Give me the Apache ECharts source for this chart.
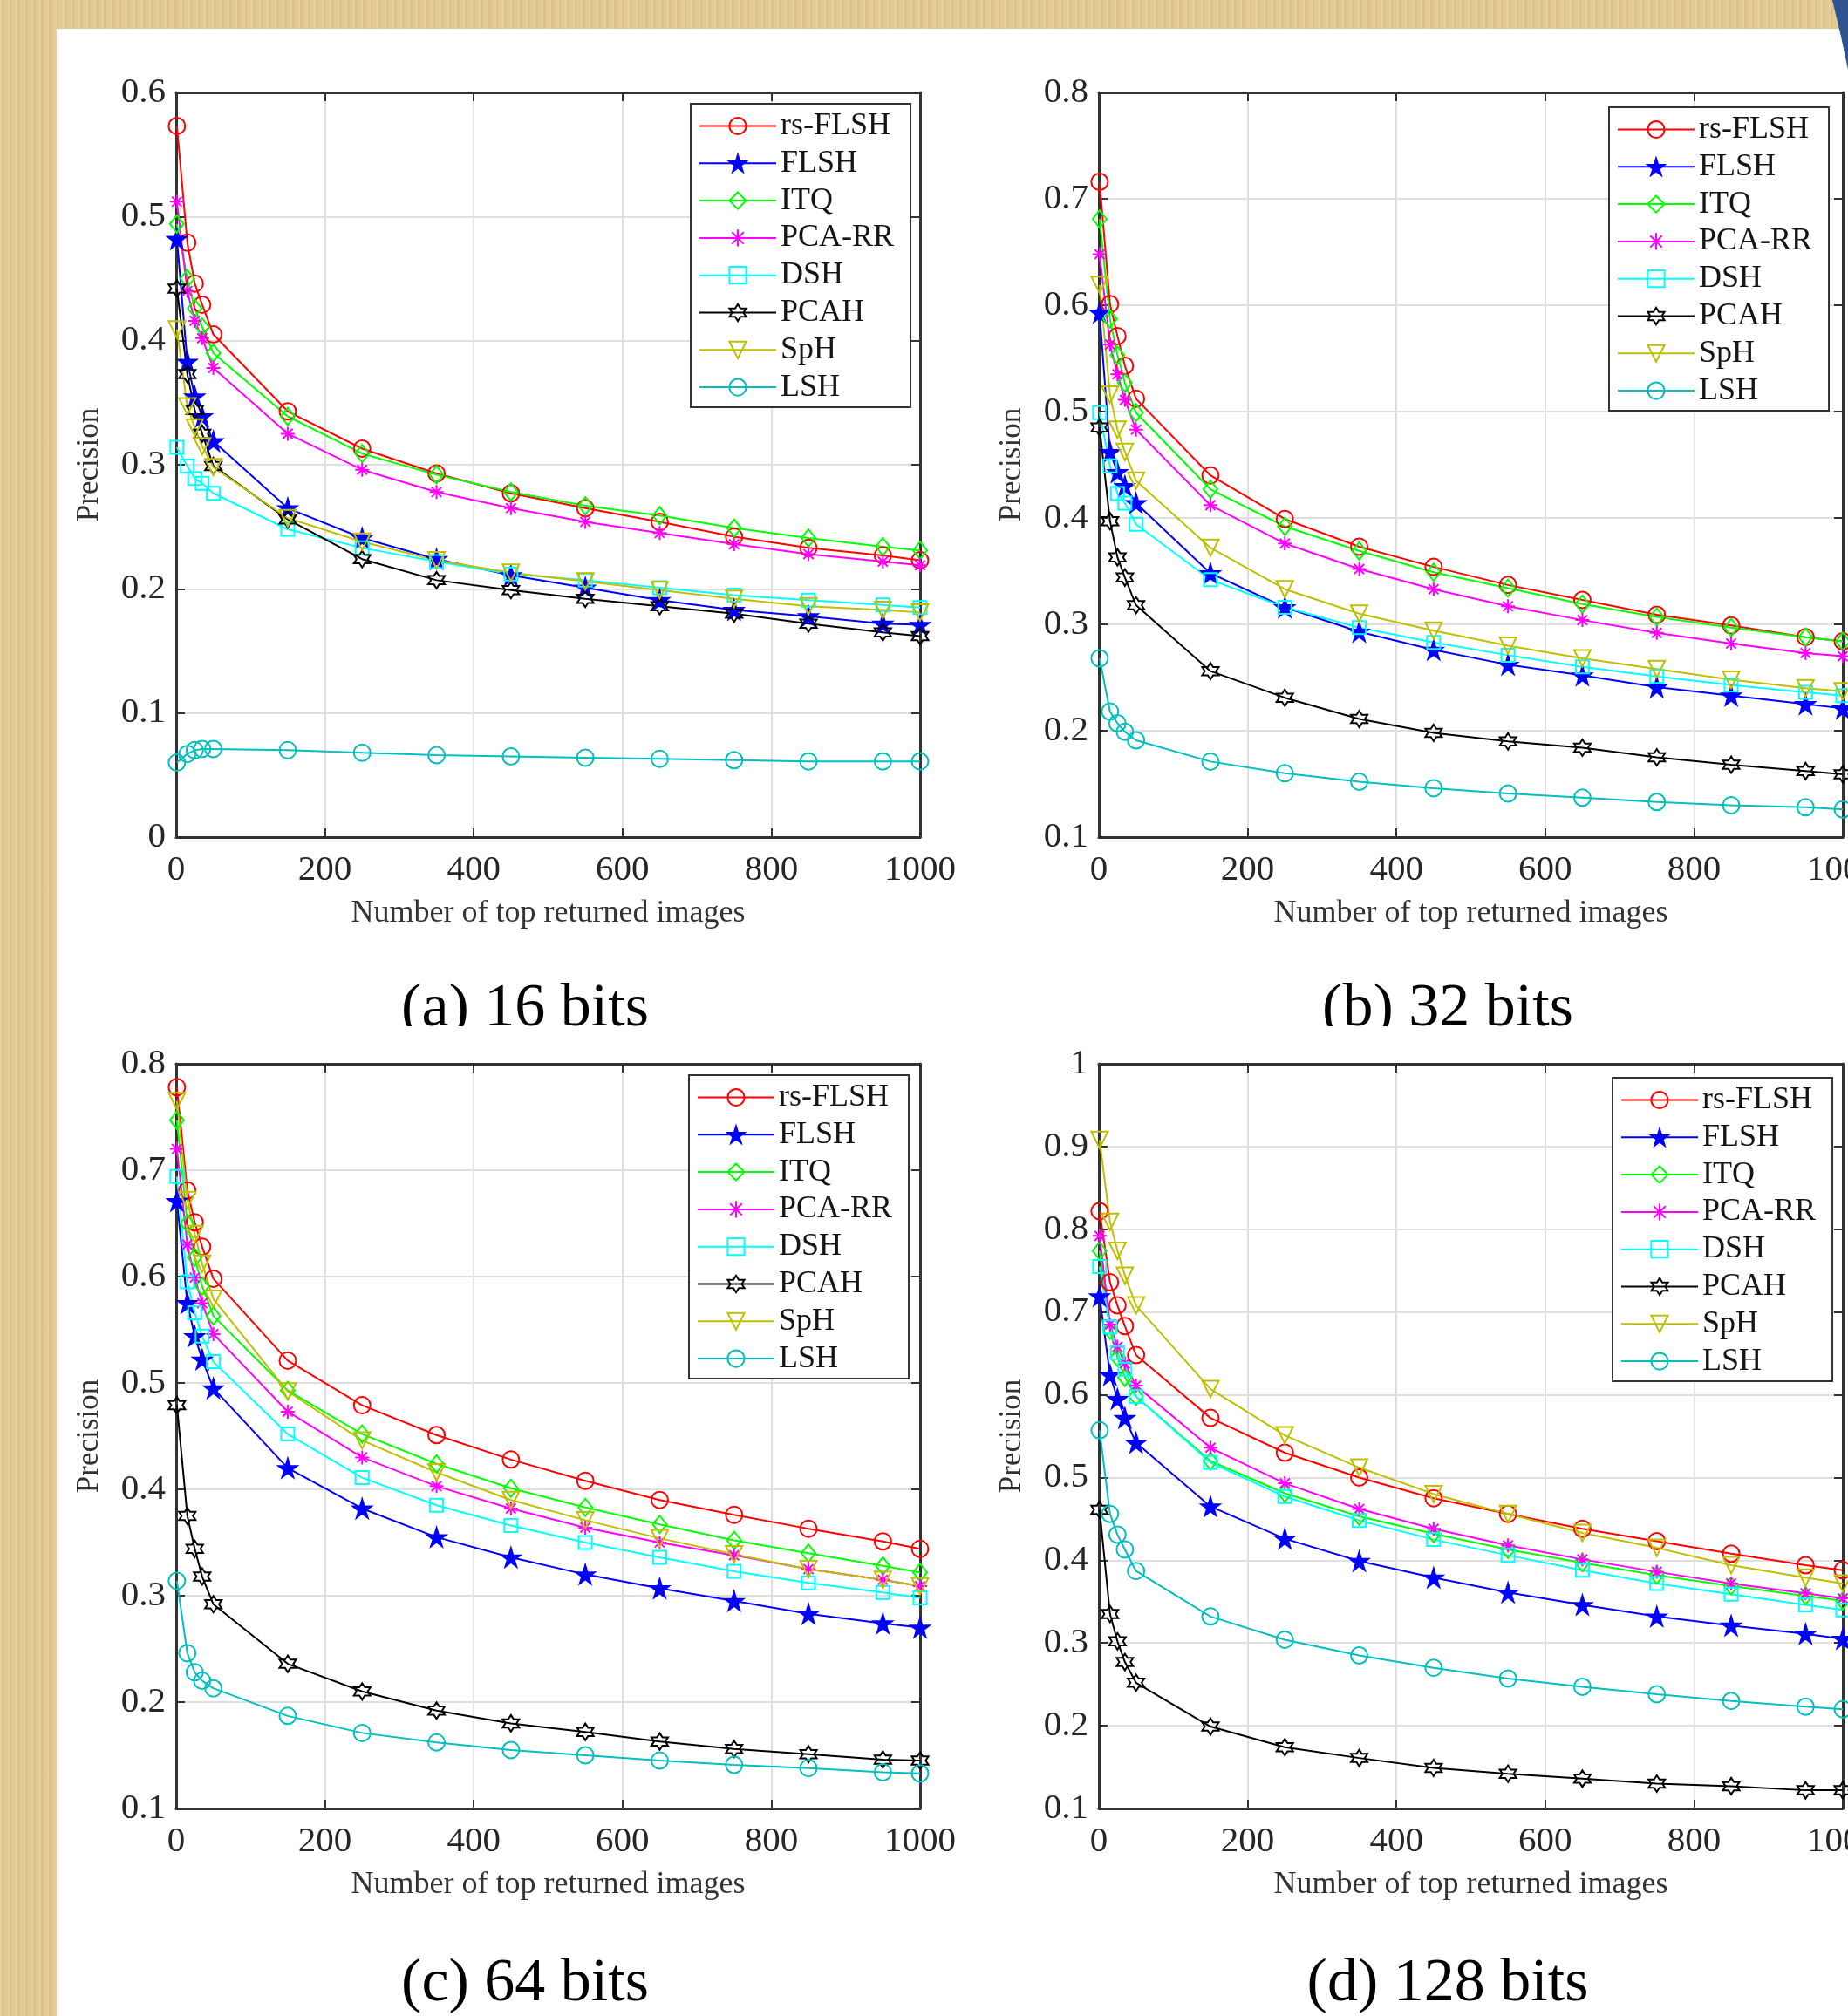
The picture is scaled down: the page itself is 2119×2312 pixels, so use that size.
<!DOCTYPE html>
<html>
<head>
<meta charset="utf-8">
<title>Precision vs number of top returned images</title>
<script src="https://cdn.jsdelivr.net/npm/echarts@6/dist/echarts.min.js"></script>
<style>
  html, body { margin: 0; padding: 0; }
  body {
    width: 2119px; height: 2312px; position: relative; overflow: hidden;
    background-color: #e2ca93;
    background-image: repeating-linear-gradient(90deg, rgba(255,255,255,0.12) 0 2px, rgba(140,100,40,0.07) 2px 5px, rgba(255,255,255,0) 5px 9px);
  }
  #sheet { position: absolute; left: 65px; top: 33px; right: 0; bottom: 0; background: #fff; }
  #chart { position: absolute; left: 0; top: 0; width: 2119px; height: 2312px; }
</style>
</head>
<body>
<div id="sheet"></div>
<div id="chart"></div>
<script>
// number of top returned images
const topN = [1, 15, 25, 35, 50, 150, 250, 350, 450, 550, 650, 750, 850, 950, 1000];
const methods = ['rs-FLSH', 'FLSH', 'ITQ', 'PCA-RR', 'DSH', 'PCAH', 'SpH', 'LSH'];
const xTicks = [0, 200, 400, 600, 800, 1000];

// (a) 16 bits
const rsFLSH16 = [0.573, 0.479, 0.446, 0.429, 0.405, 0.343, 0.313, 0.293, 0.277, 0.265, 0.254, 0.242, 0.233, 0.227, 0.223];
const FLSH16   = [0.482, 0.383, 0.355, 0.339, 0.319, 0.265, 0.241, 0.224, 0.211, 0.201, 0.191, 0.183, 0.178, 0.172, 0.171];
const ITQ16    = [0.494, 0.450, 0.426, 0.411, 0.390, 0.339, 0.309, 0.292, 0.278, 0.267, 0.259, 0.249, 0.241, 0.234, 0.231];
const PCARR16  = [0.512, 0.440, 0.416, 0.402, 0.378, 0.325, 0.296, 0.278, 0.265, 0.254, 0.245, 0.236, 0.228, 0.222, 0.219];
const DSH16    = [0.314, 0.299, 0.289, 0.285, 0.277, 0.248, 0.233, 0.222, 0.212, 0.207, 0.201, 0.195, 0.191, 0.187, 0.185];
const PCAH16   = [0.442, 0.373, 0.344, 0.325, 0.299, 0.256, 0.224, 0.207, 0.199, 0.192, 0.186, 0.180, 0.172, 0.165, 0.162];
const SpH16    = [0.409, 0.347, 0.330, 0.315, 0.298, 0.257, 0.238, 0.223, 0.213, 0.206, 0.199, 0.192, 0.186, 0.183, 0.181];
const LSH16    = [0.060, 0.067, 0.070, 0.071, 0.071, 0.070, 0.068, 0.066, 0.065, 0.064, 0.063, 0.062, 0.061, 0.061, 0.061];

// (b) 32 bits
const rsFLSH32 = [0.716, 0.601, 0.571, 0.543, 0.512, 0.440, 0.399, 0.373, 0.354, 0.337, 0.323, 0.309, 0.299, 0.288, 0.284];
const FLSH32   = [0.593, 0.462, 0.443, 0.430, 0.414, 0.348, 0.316, 0.293, 0.276, 0.262, 0.252, 0.241, 0.233, 0.225, 0.221];
const ITQ32    = [0.681, 0.587, 0.553, 0.527, 0.499, 0.427, 0.392, 0.369, 0.349, 0.334, 0.319, 0.307, 0.297, 0.288, 0.284];
const PCARR32  = [0.648, 0.563, 0.535, 0.511, 0.483, 0.412, 0.376, 0.352, 0.333, 0.317, 0.304, 0.292, 0.282, 0.273, 0.270];
const DSH32    = [0.499, 0.449, 0.423, 0.414, 0.394, 0.342, 0.316, 0.297, 0.283, 0.271, 0.260, 0.251, 0.243, 0.236, 0.233];
const PCAH32   = [0.485, 0.397, 0.363, 0.344, 0.318, 0.256, 0.231, 0.211, 0.198, 0.190, 0.184, 0.175, 0.168, 0.162, 0.159];
const SpH32    = [0.619, 0.516, 0.483, 0.462, 0.435, 0.372, 0.333, 0.310, 0.294, 0.280, 0.268, 0.258, 0.248, 0.240, 0.237];
const LSH32    = [0.268, 0.218, 0.207, 0.199, 0.191, 0.171, 0.160, 0.152, 0.146, 0.141, 0.137, 0.133, 0.130, 0.128, 0.126];

// (c) 64 bits
const rsFLSH64 = [0.778, 0.681, 0.651, 0.628, 0.598, 0.521, 0.479, 0.451, 0.428, 0.408, 0.390, 0.376, 0.363, 0.351, 0.344];
const FLSH64   = [0.671, 0.575, 0.544, 0.522, 0.495, 0.420, 0.382, 0.355, 0.336, 0.320, 0.307, 0.295, 0.283, 0.274, 0.270];
const ITQ64    = [0.747, 0.650, 0.618, 0.591, 0.563, 0.493, 0.452, 0.424, 0.401, 0.383, 0.367, 0.352, 0.340, 0.328, 0.322];
const PCARR64  = [0.720, 0.630, 0.599, 0.575, 0.546, 0.473, 0.430, 0.403, 0.382, 0.364, 0.350, 0.338, 0.325, 0.315, 0.309];
const DSH64    = [0.694, 0.595, 0.566, 0.544, 0.520, 0.452, 0.411, 0.385, 0.366, 0.350, 0.336, 0.323, 0.312, 0.303, 0.298];
const PCAH64   = [0.479, 0.375, 0.344, 0.318, 0.292, 0.236, 0.210, 0.192, 0.180, 0.172, 0.163, 0.156, 0.151, 0.146, 0.145];
const SpH64    = [0.765, 0.672, 0.640, 0.612, 0.579, 0.492, 0.446, 0.416, 0.390, 0.371, 0.354, 0.339, 0.325, 0.315, 0.309];
const LSH64    = [0.314, 0.246, 0.228, 0.220, 0.213, 0.187, 0.171, 0.162, 0.155, 0.150, 0.145, 0.141, 0.138, 0.134, 0.133];

// (d) 128 bits
const rsFLSH128 = [0.822, 0.736, 0.708, 0.683, 0.648, 0.572, 0.530, 0.500, 0.475, 0.456, 0.438, 0.423, 0.408, 0.394, 0.388];
const FLSH128   = [0.719, 0.624, 0.595, 0.572, 0.542, 0.465, 0.426, 0.399, 0.379, 0.361, 0.346, 0.332, 0.321, 0.311, 0.305];
const ITQ128    = [0.774, 0.678, 0.645, 0.621, 0.598, 0.520, 0.481, 0.453, 0.432, 0.413, 0.397, 0.382, 0.369, 0.357, 0.351];
const PCARR128  = [0.792, 0.685, 0.658, 0.638, 0.611, 0.536, 0.493, 0.462, 0.438, 0.418, 0.401, 0.386, 0.372, 0.360, 0.354];
const DSH128    = [0.755, 0.682, 0.651, 0.631, 0.598, 0.518, 0.477, 0.448, 0.425, 0.406, 0.388, 0.372, 0.359, 0.346, 0.340];
const PCAH128   = [0.461, 0.335, 0.302, 0.277, 0.252, 0.199, 0.174, 0.161, 0.149, 0.142, 0.136, 0.130, 0.127, 0.122, 0.122];
const SpH128    = [0.908, 0.809, 0.774, 0.744, 0.708, 0.607, 0.551, 0.512, 0.480, 0.456, 0.433, 0.415, 0.394, 0.379, 0.372];
const LSH128    = [0.557, 0.456, 0.431, 0.413, 0.387, 0.332, 0.304, 0.285, 0.270, 0.257, 0.247, 0.238, 0.230, 0.223, 0.220];

const SERIF = '"Liberation Serif", "Times New Roman", serif';
const INK = '#262626';

// marker shapes like matlab's o p d * s h v o
const STAR = 'path://M50,0 L61,35 L98,35 L68,57 L79,91 L50,70 L21,91 L32,57 L2,35 L39,35 Z';
const HEXA = 'path://M50,0 L64,25 L93,25 L79,50 L93,75 L64,75 L50,100 L36,75 L7,75 L21,50 L7,25 L36,25 Z';
const ASTER = 'path://M50,0 L50,100 M0,50 L100,50 M15,15 L85,85 M85,15 L15,85';

const look = {
  'rs-FLSH': { color: '#ff0000', symbol: 'circle', size: 19, fill: 'rgba(0,0,0,0)' },
  'FLSH':    { color: '#0000ff', symbol: STAR, size: 21, fill: '#0000ff' },
  'ITQ':     { color: '#00ff00', symbol: 'diamond', size: [16, 20], fill: 'rgba(0,0,0,0)' },
  'PCA-RR':  { color: '#ff00ff', symbol: ASTER, size: 16, fill: 'rgba(0,0,0,0)' },
  'DSH':     { color: '#00ffff', symbol: 'rect', size: 15, fill: 'rgba(0,0,0,0)' },
  'PCAH':    { color: '#000000', symbol: HEXA, size: 19, fill: 'rgba(0,0,0,0)' },
  'SpH':     { color: '#bfbf00', symbol: 'triangle', size: 19, fill: 'rgba(0,0,0,0)', rotate: 180 },
  'LSH':     { color: '#00bfbf', symbol: 'circle', size: 19, fill: 'rgba(0,0,0,0)' }
};

const panels = [
  { caption: '(a) 16 bits',  left: 202,  top: 106,  yMin: 0,   yMax: 0.6, legLeft: 792,  legTop: 119,
    values: [rsFLSH16, FLSH16, ITQ16, PCARR16, DSH16, PCAH16, SpH16, LSH16], capY: 1158 },
  { caption: '(b) 32 bits',  left: 1260, top: 106,  yMin: 0.1, yMax: 0.8, legLeft: 1845, legTop: 123,
    values: [rsFLSH32, FLSH32, ITQ32, PCARR32, DSH32, PCAH32, SpH32, LSH32], capY: 1158 },
  { caption: '(c) 64 bits',  left: 202,  top: 1220, yMin: 0.1, yMax: 0.8, legLeft: 790,  legTop: 1233,
    values: [rsFLSH64, FLSH64, ITQ64, PCARR64, DSH64, PCAH64, SpH64, LSH64], capY: 2276 },
  { caption: '(d) 128 bits', left: 1260, top: 1220, yMin: 0.1, yMax: 1.0, legLeft: 1849, legTop: 1236,
    values: [rsFLSH128, FLSH128, ITQ128, PCARR128, DSH128, PCAH128, SpH128, LSH128], capY: 2276 }
];

const grid = [], xAxis = [], yAxis = [], legend = [], series = [], graphic = [];

panels.forEach((p, i) => {
  grid.push({ left: p.left, top: p.top, width: 853, height: 854, containLabel: false, outerBoundsMode: 'none' });

  xAxis.push({
    gridIndex: i, type: 'value', position: 'bottom',
    min: xTicks[0], max: xTicks[xTicks.length - 1], interval: 200,
    name: 'Number of top returned images', nameLocation: 'middle', nameGap: 70,
    nameTextStyle: { fontFamily: SERIF, fontSize: 36, color: '#333' },
    axisLine: { onZero: false, lineStyle: { color: '#333', width: 3 } },
    axisTick: { inside: true, length: 10, lineStyle: { color: '#333', width: 2 } },
    axisLabel: { fontFamily: SERIF, fontSize: 41, color: INK, margin: 18, formatter: v => String(v) },
    splitLine: { show: true, lineStyle: { color: '#dfdfdf', width: 2 } }
  });
  xAxis.push({
    gridIndex: i, type: 'value', position: 'top',
    min: xTicks[0], max: xTicks[xTicks.length - 1], interval: 200,
    axisLine: { onZero: false, lineStyle: { color: '#333', width: 3 } },
    axisTick: { inside: true, length: 10, lineStyle: { color: '#333', width: 2 } },
    axisLabel: { show: false }, splitLine: { show: false }
  });

  yAxis.push({
    gridIndex: i, type: 'value', position: 'left',
    min: p.yMin, max: p.yMax, interval: 0.1,
    name: 'Precision', nameLocation: 'middle', nameGap: 82,
    nameTextStyle: { fontFamily: SERIF, fontSize: 35, color: '#333' },
    axisLine: { onZero: false, lineStyle: { color: '#333', width: 3 } },
    axisTick: { inside: true, length: 10, lineStyle: { color: '#333', width: 2 } },
    axisLabel: { fontFamily: SERIF, fontSize: 41, color: INK, margin: 12 },
    splitLine: { show: true, lineStyle: { color: '#dfdfdf', width: 2 } }
  });
  yAxis.push({
    gridIndex: i, type: 'value', position: 'right',
    min: p.yMin, max: p.yMax, interval: 0.1,
    axisLine: { onZero: false, lineStyle: { color: '#333', width: 3 } },
    axisTick: { inside: true, length: 10, lineStyle: { color: '#333', width: 2 } },
    axisLabel: { show: false }, splitLine: { show: false }
  });

  legend.push({
    orient: 'vertical', left: p.legLeft, top: p.legTop,
    padding: [7.5, 19, 5, 9], itemGap: 6.8, itemWidth: 88, itemHeight: 24,
    backgroundColor: '#fff', borderColor: '#333', borderWidth: 2, borderRadius: 0,
    textStyle: { fontFamily: SERIF, fontSize: 36, color: '#151515', lineHeight: 36 },
    itemStyle: { borderWidth: 2 },
    data: methods, selectedMode: false
  });

  methods.forEach((m, k) => {
    const s = look[m];
    series.push({
      type: 'line', name: m, xAxisIndex: 2 * i, yAxisIndex: 2 * i,
      data: topN.map((n, j) => [n, p.values[k][j]]),
      symbol: s.symbol, symbolSize: s.size, symbolRotate: s.rotate || 0,
      showAllSymbol: true,
      lineStyle: { color: s.color, width: 2 },
      itemStyle: { color: s.fill, borderColor: s.color, borderWidth: 2 },
      emphasis: { disabled: true }
    });
  });

  graphic.push({
    type: 'text', x: p.left + 400, y: p.capY, z: 50,
    style: { text: p.caption, fontFamily: SERIF, fontSize: 70, fill: '#000', align: 'center', verticalAlign: 'middle' }
  });
});

// the upper captions are cut off at the bottom in the source
graphic.push({ type: 'rect', z: 100, shape: { x: 66, y: 1177, width: 2053, height: 20 }, style: { fill: '#fff' } });
// dark blue corner shape at the top right
graphic.push({ type: 'polygon', z: 100, shape: { points: [[2101, 0], [2119, 0], [2119, 80], [2111, 42]] }, style: { fill: '#2f5290' } });

const chart = echarts.init(document.getElementById('chart'), null, { renderer: 'canvas' });
chart.setOption({
  backgroundColor: 'transparent',
  animation: false,
  grid, xAxis, yAxis, legend, series, graphic
});
window.addEventListener('resize', () => chart.resize());
</script>
</body>
</html>
